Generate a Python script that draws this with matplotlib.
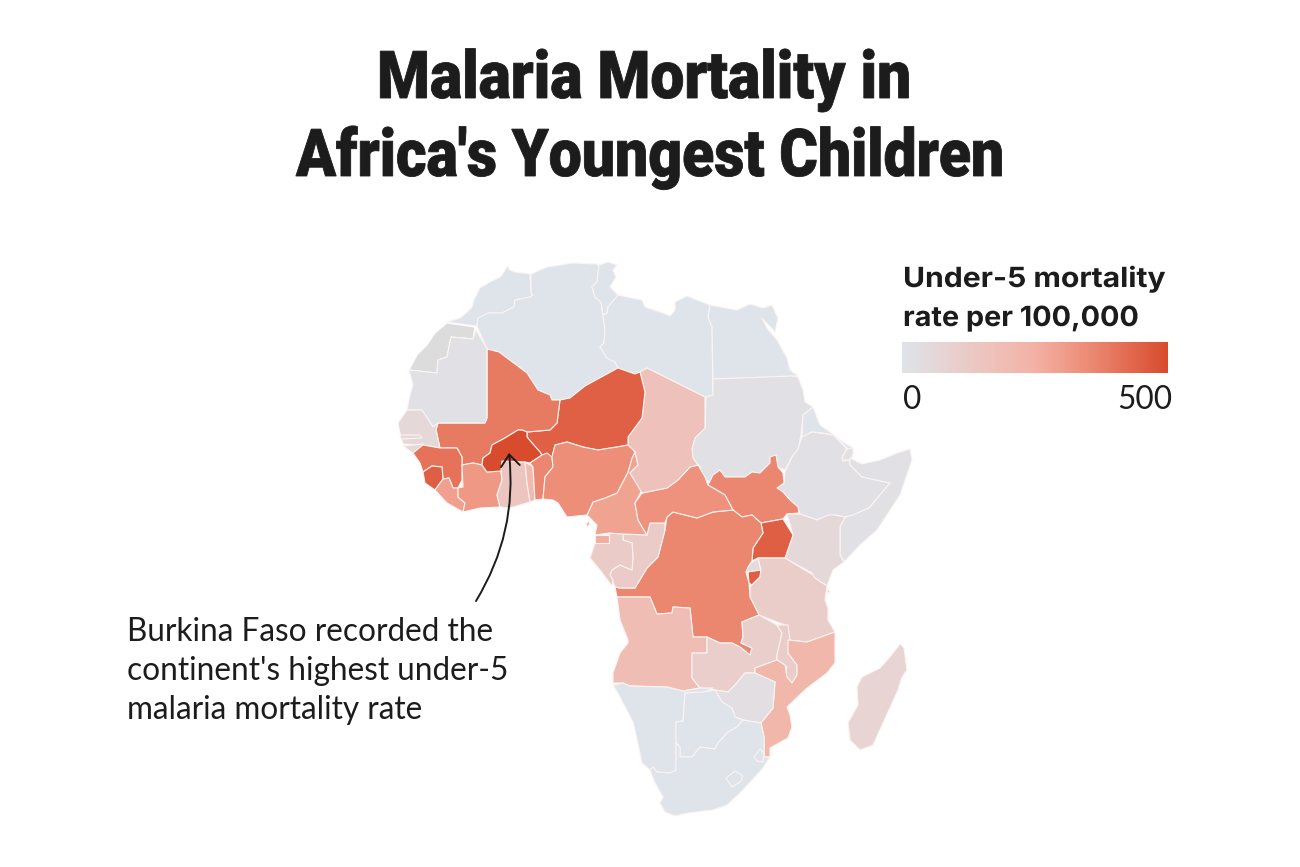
import matplotlib
matplotlib.use("Agg")
import matplotlib.pyplot as plt
from matplotlib.colors import LinearSegmentedColormap, Normalize
from matplotlib.patches import Polygon, FancyArrowPatch
from matplotlib.transforms import Affine2D
import matplotlib.patheffects as pe
import numpy as np

# ---- Map outlines, traced in map units ----
MOROCCO=[(447,322),(460,318),(466,313),(472,307),(474,300),(480,288),(490,282),(500,277),(504,272),(507,266),(510,270),(515,272),(530,274),(531,293),(533,295),(530,297),(515,300),(514,307),(502,313),(488,313),(478,318),(477,326)]
W_SAHARA=[(447,323),(475,327),(473,339),(451,337),(447,357),(438,360),(437,373),(409,370),(417,355),(427,345),(435,333)]
ALGERIA=[(477,326),(478,318),(488,313),(502,313),(514,307),(515,300),(530,297),(533,295),(531,293),(531,274),(547,267),(573,263),(597,264),(599,267),(597,282),(592,287),(595,297),(601,302),(603,315),(605,330),(604,343),(600,347),(607,358),(615,362),(618,368),(585,386),(570,398),(560,400),(552,400),(550,395),(538,390),(527,373),(499,352),(487,349)]
TUNISIA=[(599,265),(608,262),(617,265),(613,270),(616,277),(610,287),(618,295),(608,307),(607,313),(603,315),(601,302),(595,297),(592,287),(597,282)]
LIBYA=[(618,295),(627,297),(642,300),(645,307),(663,313),(670,316),(675,310),(675,302),(687,296),(697,300),(710,305),(708,317),(712,327),(713,395),(705,397),(647,368),(640,372),(635,374),(618,368),(615,362),(607,358),(600,347),(604,343),(605,330),(603,315),(607,313),(608,307)]
EGYPT=[(710,305),(737,310),(750,304),(763,308),(772,305),(778,318),(775,332),(762,318),(767,328),(777,340),(787,358),(790,370),(798,376),(713,379),(712,327),(708,317)]
SUDAN=[(713,379),(792,376),(798,377),(803,390),(805,402),(813,407),(803,415),(801,435),(798,449),(792,457),(785,470),(778,467),(776,455),(770,457),(770,463),(760,473),(752,472),(745,477),(725,477),(720,470),(713,475),(710,483),(703,477),(700,467),(693,458),(692,448),(695,438),(705,428),(706,397),(713,395)]
ERITREA=[(813,407),(820,425),(830,432),(843,442),(853,448),(850,453),(847,448),(833,435),(823,433),(812,432),(802,437),(803,415)]
DJIBOUTI=[(847,449),(853,448),(853,455),(850,460),(843,460),(842,457)]
ETHIOPIA=[(802,437),(812,432),(833,435),(847,449),(842,457),(843,461),(850,460),(850,465),(862,477),(890,483),(869,508),(853,515),(845,517),(835,515),(828,522),(817,520),(800,514),(798,507),(790,500),(783,492),(777,488),(784,483),(785,472),(792,457),(798,449)]
SOMALIA=[(850,458),(862,464),(880,460),(897,453),(910,449),(912,460),(900,495),(877,530),(860,545),(844,562),(840,555),(840,527),(845,517),(853,515),(869,508),(890,483),(862,477),(850,465)]
S_SUDAN=[(770,457),(776,455),(778,467),(783,473),(784,483),(777,488),(783,492),(790,500),(798,507),(799,513),(787,514),(783,519),(761,523),(752,515),(742,517),(733,510),(725,495),(708,485),(713,475),(720,470),(725,477),(745,477),(752,472),(760,473),(770,463)]
KENYA=[(787,514),(800,514),(817,520),(828,515),(835,515),(845,517),(840,527),(840,555),(844,562),(833,570),(827,586),(813,577),(812,573),(785,558),(793,535)]
UGANDA=[(761,523),(783,519),(793,535),(785,558),(758,558),(752,561),(753,548),(763,533)]
RWANDA=[(752,562),(758,559),(761,570),(753,572),(746,572),(748,567)]
BURUNDI=[(748,572),(761,570),(760,577),(752,585),(749,583)]
TANZANIA=[(758,558),(785,558),(813,575),(815,578),(827,586),(825,600),(828,608),(828,620),(835,632),(807,642),(788,640),(785,625),(759,615),(750,597),(750,587),(760,577),(761,570)]
DRC=[(667,517),(673,512),(697,518),(713,512),(733,510),(742,517),(752,515),(761,523),(763,533),(753,548),(752,561),(748,567),(746,572),(749,583),(750,597),(759,615),(742,622),(743,637),(741,643),(752,648),(750,655),(740,647),(732,643),(720,643),(707,637),(693,637),(690,608),(673,607),(672,613),(657,614),(650,597),(617,597),(615,587),(620,588),(635,588),(647,568),(658,557),(665,530)]
CONGO=[(647,535),(650,523),(665,523),(665,530),(658,557),(647,568),(635,588),(620,588),(615,587),(612,580),(610,575),(612,570),(620,565),(632,570),(633,557),(632,543),(623,540),(623,534)]
GABON=[(609,543),(609,533),(623,534),(623,540),(632,543),(633,557),(632,570),(620,565),(612,570),(610,575),(613,580),(612,586),(600,570),(590,558),(595,543)]
EQ_GUINEA=[(595,535),(609,535),(609,543),(595,543)]
BIOKO=[(586,524),(589,521),(590,524),(587,527)]
CAMEROON=[(635,452),(638,465),(630,473),(642,490),(635,503),(638,520),(647,535),(623,534),(609,533),(595,535),(597,525),(587,515),(593,502),(605,498),(617,493),(628,472),(632,458)]
CAR=[(635,503),(642,493),(667,488),(678,480),(690,467),(698,465),(705,477),(708,485),(725,495),(733,510),(713,512),(697,518),(673,512),(667,517),(665,523),(650,523),(647,535),(638,520)]
CHAD=[(647,368),(705,397),(705,428),(695,438),(692,448),(693,458),(698,465),(690,467),(678,480),(667,488),(642,493),(630,473),(638,465),(635,452),(628,445),(628,437),(642,418),(645,392),(640,372)]
NIGER=[(618,368),(635,374),(640,372),(645,392),(642,418),(628,437),(628,445),(617,447),(598,450),(583,447),(567,442),(555,445),(552,457),(542,455),(540,452),(532,443),(527,437),(527,432),(550,430),(557,423),(560,400),(570,398),(585,386)]
MALI=[(487,349),(499,352),(527,373),(538,390),(550,395),(552,400),(560,400),(557,423),(550,430),(527,432),(522,430),(518,430),(505,438),(492,445),(490,453),(483,458),(482,465),(473,463),(462,465),(462,457),(457,448),(440,448),(436,430),(438,423),(485,423),(487,418)]
MAURITANIA=[(409,370),(437,373),(438,360),(447,357),(451,337),(473,339),(476,330),(487,349),(487,418),(485,423),(438,423),(433,427),(422,410),(407,410),(410,395),(413,385)]
SENEGAL=[(407,410),(422,410),(433,427),(438,423),(436,430),(440,448),(423,445),(403,444),(400,433),(398,423)]
GAMBIA=[(400,435),(420,435),(422,438),(401,439)]
G_BISSAU=[(403,446),(423,444),(424,446),(413,453)]
GUINEA=[(413,453),(423,445),(440,448),(457,448),(462,457),(462,480),(458,488),(453,488),(449,478),(443,479),(442,467),(432,466),(423,472),(420,463)]
S_LEONE=[(423,472),(432,466),(442,467),(443,479),(435,490),(425,483)]
LIBERIA=[(435,490),(443,479),(449,478),(453,488),(458,488),(458,497),(465,503),(463,512),(447,503)]
IVORY_COAST=[(462,465),(473,463),(482,465),(487,472),(501,471),(502,480),(497,495),(500,507),(480,508),(463,512),(465,503),(458,497),(458,488),(463,487)]
GHANA=[(502,461),(525,462),(527,483),(530,502),(510,508),(500,507),(497,495),(502,480),(501,471)]
BURKINA=[(522,430),(527,432),(527,437),(532,443),(540,452),(542,455),(530,463),(525,462),(502,461),(501,471),(487,472),(482,465),(483,458),(490,453),(492,445),(505,438),(518,430)]
TOGO=[(525,462),(533,467),(535,500),(530,502),(527,483)]
BENIN=[(530,463),(542,455),(547,453),(552,457),(553,467),(545,477),(543,499),(535,500),(533,467)]
NIGERIA=[(552,457),(555,445),(567,442),(583,447),(598,450),(617,447),(628,445),(635,452),(632,458),(628,472),(617,493),(605,498),(593,502),(587,515),(567,517),(558,503),(553,500),(543,499),(545,477),(553,467)]
ANGOLA=[(617,597),(650,597),(657,614),(672,613),(673,607),(690,608),(693,637),(707,637),(707,653),(692,653),(692,678),(700,688),(683,691),(667,687),(630,686),(623,683),(613,683),(613,673),(620,653),(628,643),(628,640),(620,620)]
ZAMBIA=[(707,637),(720,643),(732,643),(740,647),(750,655),(752,648),(741,643),(743,637),(742,622),(759,615),(777,625),(782,633),(777,655),(777,660),(755,668),(755,673),(745,673),(735,685),(728,692),(715,690),(700,688),(692,678),(692,653),(707,653)]
MALAWI=[(777,625),(788,625),(790,640),(788,653),(797,665),(797,675),(792,683),(785,677),(787,667),(777,660),(777,655),(782,633)]
MOZAMBIQUE=[(788,640),(807,642),(835,632),(835,663),(827,673),(807,688),(787,707),(790,715),(792,727),(788,738),(770,748),(770,757),(764,757),(764,737),(761,723),(773,708),(775,682),(755,673),(755,668),(777,660),(785,665),(787,677),(792,683),(797,675),(797,665),(788,653)]
ZIMBABWE=[(715,690),(728,692),(735,685),(745,673),(755,673),(775,682),(773,708),(761,723),(743,720),(735,717),(732,708),(722,702)]
NAMIBIA=[(613,685),(623,683),(630,686),(667,687),(683,691),(700,688),(713,688),(703,693),(685,693),(683,721),(676,722),(676,770),(670,773),(657,772),(653,767),(650,770),(642,763),(635,730),(633,722),(620,697)]
BOTSWANA=[(685,693),(703,692),(715,690),(722,702),(732,708),(735,717),(743,720),(737,727),(728,732),(718,743),(715,749),(700,747),(692,757),(680,757),(680,747),(676,743),(676,722),(683,721)]
S_AFRICA=[(650,770),(653,767),(657,772),(670,773),(676,770),(676,743),(680,747),(680,757),(692,757),(700,747),(715,749),(718,743),(728,732),(737,727),(743,720),(761,723),(764,737),(764,757),(770,757),(763,768),(752,780),(740,793),(727,805),(713,810),(688,813),(675,816),(665,812),(660,803),(663,797),(655,783)]
ESWATINI=[(760,749),(764,753),(763,762),(757,761),(754,757)]
LESOTHO=[(726,778),(735,771),(743,776),(740,782),(732,787)]
MADAGASCAR=[(900,644),(904,648),(907,670),(902,677),(898,690),(883,723),(873,745),(860,750),(850,740),(848,723),(858,705),(857,687),(862,677),(880,668),(890,657)]
ZANZIBAR=[(827,589),(830,591),(828,594)]

OUTLINES=[MOROCCO,ALGERIA,TUNISIA,LIBYA,EGYPT,SUDAN,ERITREA,DJIBOUTI,ETHIOPIA,SOMALIA,S_SUDAN,KENYA,UGANDA,RWANDA,BURUNDI,TANZANIA,DRC,CONGO,GABON,EQ_GUINEA,BIOKO,CAMEROON,CAR,CHAD,NIGER,MALI,MAURITANIA,SENEGAL,GAMBIA,G_BISSAU,GUINEA,S_LEONE,LIBERIA,IVORY_COAST,GHANA,BURKINA,TOGO,BENIN,NIGERIA,ANGOLA,ZAMBIA,MALAWI,MOZAMBIQUE,ZIMBABWE,NAMIBIA,BOTSWANA,S_AFRICA,ESWATINI,LESOTHO,MADAGASCAR,ZANZIBAR]
RATES=[0,0,0,0,0,20,0,20,20,20,360,60,455,40,455,115,365,120,120,260,260,290,335,170,450,390,20,60,60,60,410,455,300,320,150,500,215,360,345,190,105,115,225,30,0,0,0,0,0,80,115]

TITLE=["Malaria Mortality in","Africa's Youngest Children"]
LEGEND_TITLE=["Under-5 mortality","rate per 100,000"]
LEGEND_TICKS=[0,500]
NOTE=["Burkina Faso recorded the","continent's highest under-5","malaria mortality rate"]
CMAP_STOPS=[(0.0,"#dfe4ea"),(0.25,"#ebcac6"),(0.5,"#f4b2a5"),(0.7,"#ed8c76"),(1.0,"#d84b2d")]

cmap=LinearSegmentedColormap.from_list("m",CMAP_STOPS)
norm=Normalize(0,500)

class HScale(pe.AbstractPathEffect):
    """Stretch a real text object horizontally about x=cx (no condensed font is installed)."""
    def __init__(self,sx,cx,stroke=0.0):
        super().__init__()
        self.sx,self.cx,self.stroke=sx,cx,stroke
    def draw_path(self,renderer,gc,tpath,affine,rgbFace=None):
        a=affine+Affine2D().translate(-self.cx,0).scale(self.sx,1).translate(self.cx,0)
        g=renderer.new_gc(); g.copy_properties(gc)
        g.set_linewidth(self.stroke); g.set_foreground(rgbFace); g.set_joinstyle("miter")
        renderer.draw_path(g,tpath,a,rgbFace)
        g.restore()

fig=plt.figure(figsize=(13,8.67),dpi=100)
ax=fig.add_axes([0,0,1,1])
ax.set_xlim(0,1300); ax.set_ylim(867,0); ax.axis("off")
rend=fig.canvas.get_renderer()

def fit(t,width,stroke=0.0):
    bb=t.get_window_extent(rend)
    cx=bb.x0 if t.get_ha()=="left" else (bb.x1 if t.get_ha()=="right" else (bb.x0+bb.x1)/2)
    t.set_path_effects([HScale(width/bb.width,cx,stroke)])

ax.add_patch(Polygon(W_SAHARA,closed=True,facecolor="#dcdcdc",edgecolor="white",lw=0.8))
for pts,v in zip(OUTLINES,RATES):
    ax.add_patch(Polygon(pts,closed=True,facecolor=cmap(norm(v)),edgecolor="#fbf4f2",lw=0.8,joinstyle="round"))

INK="#1c1c1c"
for s,x,y,w in zip(TITLE,[644,650],[98,176],[534,708]):
    t=ax.text(x,y,s,ha="center",va="baseline",fontsize=47.5,fontweight=900,family="Roboto",color=INK)
    fit(t,w,stroke=0.6)
for s,y,w in zip(LEGEND_TITLE,[287,326],[263,236]):
    t=ax.text(903,y,s,ha="left",va="baseline",fontsize=20,fontweight="bold",family="Inter",color=INK)
    fit(t,w)
for s,y in zip(NOTE,[641,680,719]):
    ax.text(127,y,s,ha="left",va="baseline",fontsize=22.7,family="Lato",color=INK)

cax=fig.add_axes([902/1300,1-373/867,265/1300,31/867])
cax.imshow(np.linspace(0,500,256)[None,:],aspect="auto",cmap=cmap,norm=norm)
cax.axis("off")
ax.text(903,409,str(LEGEND_TICKS[0]),ha="left",va="baseline",fontsize=22.7,family="Lato",color=INK)
ax.text(1172,409,str(LEGEND_TICKS[1]),ha="right",va="baseline",fontsize=22.7,family="Lato",color=INK)

ax.add_patch(FancyArrowPatch((476,601),(509,453),connectionstyle="arc3,rad=0.17",arrowstyle="->,head_length=3.2,head_width=2.6",lw=1.4,color=INK,shrinkA=0,shrinkB=0,mutation_scale=2.6))

fig.savefig("out.png",dpi=100)
